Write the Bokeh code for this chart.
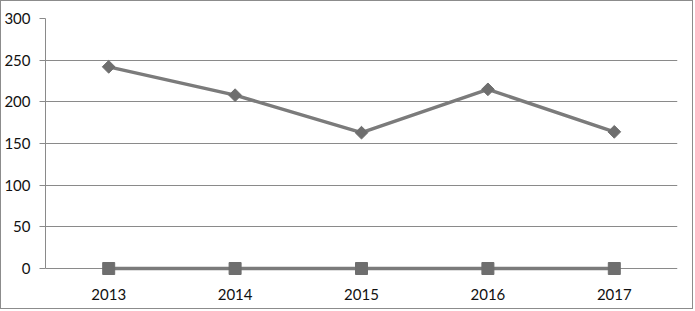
import math
from bokeh.plotting import figure
from bokeh.models import Range1d, FixedTicker
from bokeh.embed import file_html
from bokeh.resources import INLINE

years = ["2013", "2014", "2015", "2016", "2017"]
series_a = [242, 208, 163, 215, 164]
series_b = [0, 0, 0, 0, 0]
y_ticks = [0, 50, 100, 150, 200, 250, 300]

GRID = "#8a8a8a"
LINE = "#7b7b7b"
MARK = "#6e6e6e"
FONT = "Lato"

p = figure(x_range=years, y_range=Range1d(-9.6, 300), width=693, height=309,
           output_backend="svg", toolbar_location=None,
           min_border_left=44, min_border_right=17, min_border_top=17, min_border_bottom=34)
p.styles = {"border": "1px solid #8c8c8c"}
p.outline_line_color = None
p.background_fill_color = "white"
p.border_fill_color = "white"

p.xgrid.grid_line_color = None
p.ygrid.grid_line_color = GRID
p.ygrid.grid_line_width = 1
p.yaxis.ticker = FixedTicker(ticks=y_ticks)
p.yaxis.bounds = (0, 300)

for ax in (p.xaxis[0], p.yaxis[0]):
    ax.axis_line_color = GRID
    ax.major_tick_line_color = GRID
    ax.minor_tick_line_color = None
    ax.major_label_text_font = FONT
    ax.major_label_text_font_size = "15px"
    ax.major_label_text_color = "#111111"

p.yaxis.major_tick_out = 6
p.yaxis.major_tick_in = 0
p.yaxis.major_label_standoff = 9
p.xaxis.axis_line_color = None
p.xaxis.major_tick_line_color = None
p.xaxis.major_label_standoff = 6

p.line(years, series_b, line_color=LINE, line_width=3.5)
p.scatter(years, series_b, marker="square", size=12, fill_color=MARK, line_color=MARK)
p.line(years, series_a, line_color=LINE, line_width=3.5)
p.scatter(years, series_a, marker="square", angle=math.pi / 4, size=9,
          fill_color=MARK, line_color=MARK)

open("out.html", "w").write(file_html(p, INLINE))
